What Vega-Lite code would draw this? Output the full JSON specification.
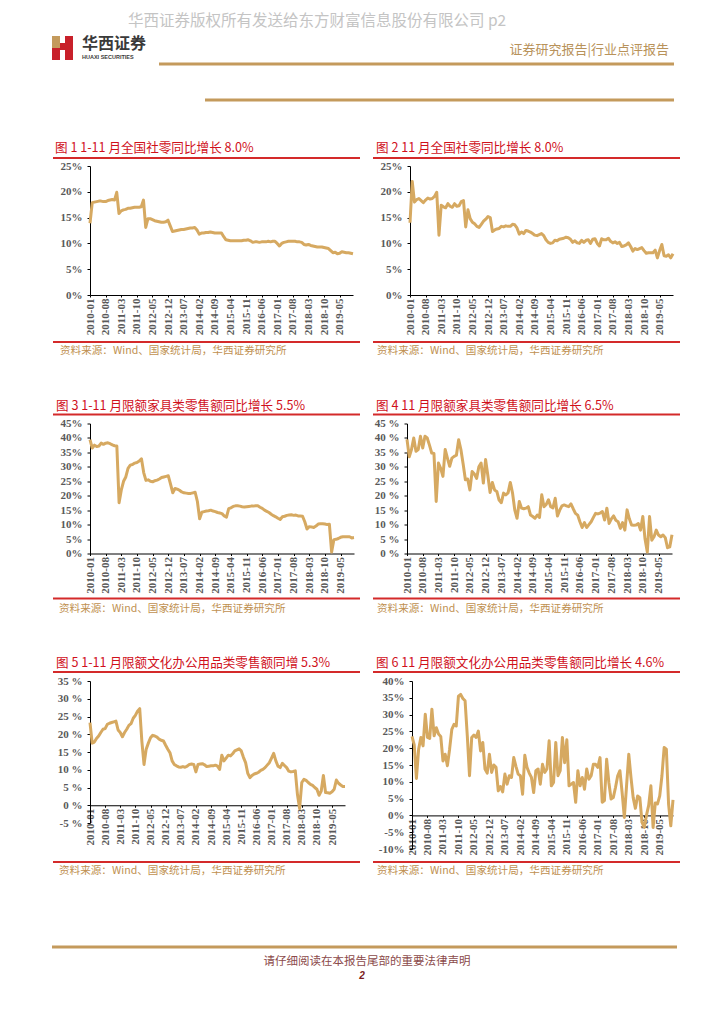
{
"$schema": "https://vega.github.io/schema/vega-lite/v6.json",
"autosize": {"type": "none"},
"padding": {"left": 90, "top": 166, "right": 634, "bottom": 858},
"background": "white",
"config": {
 "view": {"stroke": null},
 "font": "Noto Sans CJK SC",
 "axis": {"grid": false, "title": null, "domainColor": "#000000", "tickColor": "#000000", "labelFont": "Liberation Serif", "labelFontSize": 11, "labelColor": "#595959", "labelFontWeight": "bold", "tickSize": 3}
},
"datasets": {"m": [
{"d":"2010-01","a":13.9,"b":14.0,"c":39.4,"e":39.5,"f":23.3,"g":23.5},
{"d":"2010-02","a":17.9,"b":22.0,"c":36.5,"e":33.5,"f":17.5,"g":21.0},
{"d":"2010-03","a":18.0,"b":18.0,"c":37.5,"e":36.0,"f":17.8,"g":11.0},
{"d":"2010-04","a":18.1,"b":18.5,"c":37.0,"e":40.0,"f":18.8,"g":19.7},
{"d":"2010-05","a":18.2,"b":18.7,"c":37.2,"e":35.4,"f":19.5,"g":23.2},
{"d":"2010-06","a":18.2,"b":18.3,"c":38.2,"e":36.0,"f":20.5,"g":20.7},
{"d":"2010-07","a":18.1,"b":17.9,"c":37.8,"e":40.6,"f":21.4,"g":30.1},
{"d":"2010-08","a":18.1,"b":18.4,"c":38.2,"e":36.5,"f":21.6,"g":23.2},
{"d":"2010-09","a":18.3,"b":18.8,"c":38.3,"e":40.6,"f":22.8,"g":22.9},
{"d":"2010-10","a":18.4,"b":18.6,"c":38.0,"e":40.0,"f":23.1,"g":31.6},
{"d":"2010-11","a":18.5,"b":18.7,"c":37.6,"e":37.5,"f":23.3,"g":23.7},
{"d":"2010-12","a":18.4,"b":19.1,"c":37.3,"e":34.8,"f":23.5,"g":26.1},
{"d":"2011-01","a":19.9,"b":19.9,"c":37.2,"e":34.6,"f":23.7,"g":24.2},
{"d":"2011-02","a":15.8,"b":11.6,"c":17.6,"e":18.0,"f":21.2,"g":23.5},
{"d":"2011-03","a":16.3,"b":17.4,"c":22.0,"e":31.3,"f":20.5,"g":16.2},
{"d":"2011-04","a":16.5,"b":17.1,"c":25.0,"e":29.5,"f":19.3,"g":18.2},
{"d":"2011-05","a":16.6,"b":16.9,"c":26.5,"e":26.7,"f":20.5,"g":14.8},
{"d":"2011-06","a":16.8,"b":17.7,"c":29.5,"e":36.0,"f":21.4,"g":19.7},
{"d":"2011-07","a":16.8,"b":17.2,"c":30.6,"e":33.0,"f":22.5,"g":25.6},
{"d":"2011-08","a":16.9,"b":17.0,"c":30.8,"e":30.2,"f":23.0,"g":27.1},
{"d":"2011-09","a":17.0,"b":17.7,"c":31.3,"e":33.0,"f":24.5,"g":26.6},
{"d":"2011-10","a":17.0,"b":17.2,"c":31.5,"e":33.6,"f":25.3,"g":35.5},
{"d":"2011-11","a":17.0,"b":17.3,"c":32.0,"e":34.0,"f":26.5,"g":36.0},
{"d":"2011-12","a":17.1,"b":18.1,"c":32.8,"e":39.4,"f":27.2,"g":34.8},
{"d":"2012-01","a":18.4,"b":18.3,"c":28.0,"e":36.0,"f":18.0,"g":34.1},
{"d":"2012-02","a":13.1,"b":13.2,"c":25.3,"e":31.0,"f":11.5,"g":23.7},
{"d":"2012-03","a":14.8,"b":16.5,"c":25.5,"e":25.5,"f":15.8,"g":11.8},
{"d":"2012-04","a":14.8,"b":14.8,"c":25.0,"e":25.8,"f":17.5,"g":23.2},
{"d":"2012-05","a":14.6,"b":14.1,"c":24.8,"e":22.0,"f":19.0,"g":23.9},
{"d":"2012-06","a":14.4,"b":13.8,"c":25.2,"e":28.4,"f":19.7,"g":23.2},
{"d":"2012-07","a":14.3,"b":13.3,"c":25.4,"e":27.5,"f":19.5,"g":25.1},
{"d":"2012-08","a":14.2,"b":13.1,"c":25.8,"e":26.0,"f":19.2,"g":19.2},
{"d":"2012-09","a":14.1,"b":13.7,"c":26.3,"e":30.0,"f":18.6,"g":21.7},
{"d":"2012-10","a":14.1,"b":14.3,"c":26.5,"e":31.3,"f":18.3,"g":13.8},
{"d":"2012-11","a":14.2,"b":14.7,"c":26.7,"e":24.4,"f":18.1,"g":12.6},
{"d":"2012-12","a":14.5,"b":15.2,"c":26.9,"e":32.5,"f":16.9,"g":18.2},
{"d":"2013-01","a":13.4,"b":15.0,"c":24.0,"e":27.0,"f":15.8,"g":12.8},
{"d":"2013-02","a":12.3,"b":12.3,"c":21.0,"e":21.1,"f":14.8,"g":15.0},
{"d":"2013-03","a":12.4,"b":12.6,"c":22.5,"e":24.6,"f":12.5,"g":14.3},
{"d":"2013-04","a":12.5,"b":12.8,"c":22.3,"e":22.0,"f":11.5,"g":7.3},
{"d":"2013-05","a":12.6,"b":12.9,"c":21.9,"e":21.5,"f":11.1,"g":8.6},
{"d":"2013-06","a":12.7,"b":13.3,"c":21.3,"e":18.5,"f":10.8,"g":7.0},
{"d":"2013-07","a":12.7,"b":13.2,"c":21.0,"e":17.6,"f":10.7,"g":12.3},
{"d":"2013-08","a":12.8,"b":13.4,"c":20.9,"e":20.9,"f":10.9,"g":9.3},
{"d":"2013-09","a":12.9,"b":13.3,"c":20.8,"e":20.3,"f":10.7,"g":11.8},
{"d":"2013-10","a":13.0,"b":13.3,"c":20.8,"e":21.0,"f":11.0,"g":11.3},
{"d":"2013-11","a":13.0,"b":13.7,"c":21.0,"e":24.6,"f":11.5,"g":17.2},
{"d":"2013-12","a":13.1,"b":13.6,"c":21.2,"e":20.9,"f":11.6,"g":14.6},
{"d":"2014-01","a":12.6,"b":13.0,"c":18.0,"e":15.0,"f":11.5,"g":12.3},
{"d":"2014-02","a":11.8,"b":11.8,"c":12.0,"e":12.2,"f":9.4,"g":11.8},
{"d":"2014-03","a":12.0,"b":12.2,"c":14.3,"e":18.0,"f":11.5,"g":6.3},
{"d":"2014-04","a":12.0,"b":11.9,"c":14.5,"e":15.7,"f":11.6,"g":17.9},
{"d":"2014-05","a":12.1,"b":12.5,"c":14.7,"e":15.5,"f":11.7,"g":14.3},
{"d":"2014-06","a":12.1,"b":12.4,"c":14.8,"e":15.7,"f":11.4,"g":12.6},
{"d":"2014-07","a":12.2,"b":12.2,"c":15.0,"e":16.2,"f":10.9,"g":11.3},
{"d":"2014-08","a":12.1,"b":11.9,"c":14.7,"e":13.3,"f":11.0,"g":6.8},
{"d":"2014-09","a":12.0,"b":11.6,"c":14.5,"e":12.8,"f":11.1,"g":13.3},
{"d":"2014-10","a":12.0,"b":11.5,"c":14.2,"e":12.2,"f":11.1,"g":13.8},
{"d":"2014-11","a":12.0,"b":11.7,"c":14.0,"e":13.3,"f":11.3,"g":9.3},
{"d":"2014-12","a":12.0,"b":11.9,"c":13.8,"e":12.5,"f":11.0,"g":15.2},
{"d":"2015-01","a":11.3,"b":11.5,"c":13.0,"e":20.3,"f":10.1,"g":12.8},
{"d":"2015-02","a":10.7,"b":10.7,"c":12.6,"e":16.2,"f":14.1,"g":13.8},
{"d":"2015-03","a":10.6,"b":10.2,"c":15.5,"e":17.0,"f":12.5,"g":22.2},
{"d":"2015-04","a":10.5,"b":10.0,"c":15.8,"e":18.6,"f":13.3,"g":8.8},
{"d":"2015-05","a":10.5,"b":10.1,"c":16.3,"e":16.2,"f":14.1,"g":9.8},
{"d":"2015-06","a":10.5,"b":10.6,"c":16.5,"e":15.8,"f":13.9,"g":21.7},
{"d":"2015-07","a":10.5,"b":10.5,"c":16.5,"e":19.1,"f":14.5,"g":11.8},
{"d":"2015-08","a":10.5,"b":10.8,"c":16.4,"e":13.0,"f":15.3,"g":13.3},
{"d":"2015-09","a":10.5,"b":10.9,"c":16.2,"e":15.0,"f":15.6,"g":23.2},
{"d":"2015-10","a":10.6,"b":11.0,"c":16.1,"e":16.5,"f":15.9,"g":15.7},
{"d":"2015-11","a":10.6,"b":11.2,"c":16.2,"e":16.8,"f":15.3,"g":22.5},
{"d":"2015-12","a":10.7,"b":11.1,"c":16.3,"e":16.5,"f":13.5,"g":8.8},
{"d":"2016-01","a":10.5,"b":10.8,"c":16.4,"e":16.2,"f":12.0,"g":9.3},
{"d":"2016-02","a":10.2,"b":10.2,"c":16.4,"e":17.2,"f":9.0,"g":9.8},
{"d":"2016-03","a":10.3,"b":10.5,"c":16.5,"e":15.5,"f":7.8,"g":3.9},
{"d":"2016-04","a":10.3,"b":10.1,"c":16.5,"e":13.9,"f":8.4,"g":13.3},
{"d":"2016-05","a":10.2,"b":10.0,"c":16.0,"e":13.3,"f":8.8,"g":8.8},
{"d":"2016-06","a":10.3,"b":10.6,"c":15.6,"e":11.0,"f":9.0,"g":11.3},
{"d":"2016-07","a":10.3,"b":10.2,"c":15.0,"e":9.0,"f":9.3,"g":7.8},
{"d":"2016-08","a":10.3,"b":10.6,"c":14.6,"e":10.7,"f":9.8,"g":13.8},
{"d":"2016-09","a":10.4,"b":10.7,"c":14.2,"e":9.0,"f":10.1,"g":10.8},
{"d":"2016-10","a":10.3,"b":10.0,"c":13.6,"e":10.0,"f":10.6,"g":11.8},
{"d":"2016-11","a":10.4,"b":10.8,"c":13.1,"e":11.0,"f":11.3,"g":15.2},
{"d":"2016-12","a":10.4,"b":10.9,"c":12.7,"e":12.5,"f":12.0,"g":15.2},
{"d":"2017-01","a":10.0,"b":10.0,"c":12.2,"e":13.9,"f":13.3,"g":14.3},
{"d":"2017-02","a":9.5,"b":9.5,"c":11.8,"e":13.7,"f":14.6,"g":17.2},
{"d":"2017-03","a":10.0,"b":10.9,"c":12.7,"e":14.0,"f":12.5,"g":3.9},
{"d":"2017-04","a":10.2,"b":10.7,"c":12.9,"e":14.5,"f":11.0,"g":4.4},
{"d":"2017-05","a":10.3,"b":10.7,"c":13.2,"e":11.6,"f":10.6,"g":16.7},
{"d":"2017-06","a":10.4,"b":11.0,"c":13.3,"e":15.7,"f":11.8,"g":9.8},
{"d":"2017-07","a":10.4,"b":10.4,"c":13.4,"e":10.4,"f":11.2,"g":4.9},
{"d":"2017-08","a":10.4,"b":10.1,"c":13.2,"e":12.0,"f":10.6,"g":5.3},
{"d":"2017-09","a":10.4,"b":10.3,"c":13.3,"e":13.0,"f":9.6,"g":8.3},
{"d":"2017-10","a":10.3,"b":10.0,"c":13.0,"e":11.5,"f":9.4,"g":11.8},
{"d":"2017-11","a":10.3,"b":10.2,"c":13.0,"e":11.0,"f":9.5,"g":13.3},
{"d":"2017-12","a":10.2,"b":9.4,"c":12.9,"e":8.7,"f":9.7,"g":6.8},
{"d":"2018-01","a":9.8,"b":9.5,"c":11.0,"e":10.7,"f":3.0,"g":-0.6},
{"d":"2018-02","a":9.7,"b":9.7,"c":8.5,"e":8.1,"f":-0.9,"g":8.8},
{"d":"2018-03","a":9.8,"b":10.1,"c":9.3,"e":15.1,"f":6.4,"g":18.2},
{"d":"2018-04","a":9.6,"b":9.4,"c":9.2,"e":12.0,"f":7.3,"g":11.3},
{"d":"2018-05","a":9.5,"b":8.5,"c":9.0,"e":9.9,"f":7.0,"g":5.3},
{"d":"2018-06","a":9.4,"b":9.0,"c":9.5,"e":9.8,"f":6.4,"g":2.1},
{"d":"2018-07","a":9.3,"b":8.8,"c":10.2,"e":9.9,"f":5.9,"g":5.8},
{"d":"2018-08","a":9.3,"b":9.0,"c":10.3,"e":10.4,"f":5.6,"g":5.3},
{"d":"2018-09","a":9.3,"b":9.2,"c":10.3,"e":8.1,"f":5.0,"g":-2.1},
{"d":"2018-10","a":9.2,"b":8.6,"c":10.2,"e":12.8,"f":4.5,"g":-3.6},
{"d":"2018-11","a":9.1,"b":8.1,"c":10.0,"e":5.0,"f":2.8,"g":0.0},
{"d":"2018-12","a":9.0,"b":8.2,"c":10.1,"e":0.5,"f":4.0,"g":3.0},
{"d":"2019-01","a":8.6,"b":8.2,"c":0.5,"e":12.8,"f":8.4,"g":8.8},
{"d":"2019-02","a":8.2,"b":8.2,"c":4.8,"e":4.6,"f":3.6,"g":-3.6},
{"d":"2019-03","a":8.3,"b":8.7,"c":4.9,"e":5.8,"f":3.5,"g":3.7},
{"d":"2019-04","a":8.0,"b":7.2,"c":5.2,"e":8.1,"f":3.4,"g":3.4},
{"d":"2019-05","a":8.1,"b":8.6,"c":5.6,"e":6.4,"f":3.8,"g":5.8},
{"d":"2019-06","a":8.4,"b":9.8,"c":5.8,"e":5.8,"f":4.5,"g":11.8},
{"d":"2019-07","a":8.3,"b":7.6,"c":5.8,"e":6.4,"f":7.1,"g":20.2},
{"d":"2019-08","a":8.2,"b":7.5,"c":5.8,"e":5.5,"f":6.2,"g":19.7},
{"d":"2019-09","a":8.2,"b":7.8,"c":5.8,"e":2.0,"f":5.7,"g":3.4},
{"d":"2019-10","a":8.1,"b":7.2,"c":5.4,"e":2.3,"f":5.3,"g":-3.1},
{"d":"2019-11","a":8.0,"b":8.0,"c":5.5,"e":6.5,"f":5.3,"g":4.6}
]},
"vconcat": [
 {
  "hconcat": [
   {
    "width": 263, "height": 129,
    "layer": [
     {"data": {"name": "m"}, "mark": {"type": "line", "color": "#D6A961", "strokeWidth": 3, "strokeJoin": "round"},
      "encoding": {
       "x": {"field": "d", "type": "ordinal", "scale": {"type": "point", "padding": 0}, "axis": {"values": ["2010-01","2010-08","2011-03","2011-10","2012-05","2012-12","2013-07","2014-02","2014-09","2015-04","2015-11","2016-06","2017-01","2017-08","2018-03","2018-10","2019-05"], "labelAngle": -90, "tickSize": 2, "labelPadding": 1}},
       "y": {"field": "a", "type": "quantitative", "scale": {"domain": [0, 25], "nice": false}, "axis": {"values": [0,5,10,15,20,25], "labelExpr": "datum.value + '%'", "labelPadding": 5}}
      }},
     {"data": {"values": [{}]}, "mark": {"type": "rule", "color": "#D42A2A", "strokeWidth": 2}, "encoding": {"x": {"value": -37}, "x2": {"value": 270}, "y": {"value": -8}}},
     {"data": {"values": [{}]}, "mark": {"type": "rule", "color": "#D42A2A", "strokeWidth": 2}, "encoding": {"x": {"value": -37}, "x2": {"value": 270}, "y": {"value": 176}}},
     {"data": {"values": [{}]}, "mark": {"type": "text", "align": "left", "baseline": "middle", "fontSize": 12.6, "color": "#D0101B"}, "encoding": {"x": {"value": -35}, "y": {"value": -18}, "text": {"value": "图 1 1-11 月全国社零同比增长 8.0%"}}},
     {"data": {"values": [{}]}, "mark": {"type": "text", "align": "left", "baseline": "middle", "fontSize": 10.6, "color": "#C09050"}, "encoding": {"x": {"value": -30}, "y": {"value": 185}, "text": {"value": "资料来源：Wind、国家统计局，华西证券研究所"}}},
     {"data": {"values": [{}]}, "mark": {"type": "text", "align": "center", "baseline": "middle", "fontSize": 15.5, "color": "#c4c4c4"}, "encoding": {"x": {"value": 227}, "y": {"value": -145}, "text": {"value": "华西证券版权所有发送给东方财富信息股份有限公司  p2"}}},
     {"data": {"values": [{}]}, "mark": {"type": "rect", "color": "#C49A5C"}, "encoding": {"x": {"value": -38}, "x2": {"value": -30}, "y": {"value": -130}, "y2": {"value": -118}}},
     {"data": {"values": [{}]}, "mark": {"type": "rect", "color": "#C8202A"}, "encoding": {"x": {"value": -38}, "x2": {"value": -30}, "y": {"value": -118}, "y2": {"value": -106}}},
     {"data": {"values": [{}]}, "mark": {"type": "rect", "color": "#C8202A"}, "encoding": {"x": {"value": -25}, "x2": {"value": -17}, "y": {"value": -130}, "y2": {"value": -106}}},
     {"data": {"values": [{}]}, "mark": {"type": "rect", "color": "#C8202A"}, "encoding": {"x": {"value": -30}, "x2": {"value": -25}, "y": {"value": -123}, "y2": {"value": -116}}},
     {"data": {"values": [{}]}, "mark": {"type": "text", "align": "left", "baseline": "middle", "fontSize": 16, "fontWeight": "bold", "color": "#3a3a3a"}, "encoding": {"x": {"value": -8}, "y": {"value": -122}, "text": {"value": "华西证券"}}},
     {"data": {"values": [{}]}, "mark": {"type": "text", "align": "left", "baseline": "middle", "fontSize": 5.5, "fontWeight": "bold", "color": "#3a3a3a", "font": "Liberation Sans"}, "encoding": {"x": {"value": -8}, "y": {"value": -109}, "text": {"value": "HUAXI SECURITIES"}}},
     {"data": {"values": [{}]}, "mark": {"type": "text", "align": "right", "baseline": "middle", "fontSize": 13, "color": "#B8925A"}, "encoding": {"x": {"value": 579}, "y": {"value": -116}, "text": {"value": "证券研究报告|行业点评报告"}}},
     {"data": {"values": [{}]}, "mark": {"type": "rule", "color": "#C49A5C", "strokeWidth": 3}, "encoding": {"x": {"value": 69}, "x2": {"value": 584}, "y": {"value": -102}}},
     {"data": {"values": [{}]}, "mark": {"type": "rule", "color": "#C49A5C", "strokeWidth": 3}, "encoding": {"x": {"value": 115}, "x2": {"value": 584}, "y": {"value": -66}}}
    ]
   },
   {
    "width": 263, "height": 129,
    "layer": [
     {"data": {"name": "m"}, "mark": {"type": "line", "color": "#D6A961", "strokeWidth": 3, "strokeJoin": "round"},
      "encoding": {
       "x": {"field": "d", "type": "ordinal", "scale": {"type": "point", "padding": 0}, "axis": {"values": ["2010-01","2010-08","2011-03","2011-10","2012-05","2012-12","2013-07","2014-02","2014-09","2015-04","2015-11","2016-06","2017-01","2017-08","2018-03","2018-10","2019-05"], "labelAngle": -90, "tickSize": 2, "labelPadding": 1}},
       "y": {"field": "b", "type": "quantitative", "scale": {"domain": [0, 25], "nice": false}, "axis": {"values": [0,5,10,15,20,25], "labelExpr": "datum.value + '%'", "labelPadding": 5}}
      }},
     {"data": {"values": [{}]}, "mark": {"type": "rule", "color": "#D42A2A", "strokeWidth": 2}, "encoding": {"x": {"value": -37}, "x2": {"value": 270}, "y": {"value": -8}}},
     {"data": {"values": [{}]}, "mark": {"type": "rule", "color": "#D42A2A", "strokeWidth": 2}, "encoding": {"x": {"value": -37}, "x2": {"value": 270}, "y": {"value": 176}}},
     {"data": {"values": [{}]}, "mark": {"type": "text", "align": "left", "baseline": "middle", "fontSize": 12.6, "color": "#D0101B"}, "encoding": {"x": {"value": -34}, "y": {"value": -18}, "text": {"value": "图 2 11 月全国社零同比增长 8.0%"}}},
     {"data": {"values": [{}]}, "mark": {"type": "text", "align": "left", "baseline": "middle", "fontSize": 10.6, "color": "#C09050"}, "encoding": {"x": {"value": -33}, "y": {"value": 185}, "text": {"value": "资料来源：Wind、国家统计局，华西证券研究所"}}}
    ]
   }
  ],
  "spacing": 57, "bounds": "flush"
 },
 {
  "hconcat": [
   {
    "width": 264, "height": 130,
    "layer": [
     {"data": {"name": "m"}, "mark": {"type": "line", "color": "#D6A961", "strokeWidth": 3, "strokeJoin": "round"},
      "encoding": {
       "x": {"field": "d", "type": "ordinal", "scale": {"type": "point", "padding": 0}, "axis": {"values": ["2010-01","2010-08","2011-03","2011-10","2012-05","2012-12","2013-07","2014-02","2014-09","2015-04","2015-11","2016-06","2017-01","2017-08","2018-03","2018-10","2019-05"], "labelAngle": -90, "tickSize": 2, "labelPadding": 1}},
       "y": {"field": "c", "type": "quantitative", "scale": {"domain": [0, 45], "nice": false}, "axis": {"values": [0,5,10,15,20,25,30,35,40,45], "labelExpr": "datum.value + '%'", "labelPadding": 5}}
      }},
     {"data": {"values": [{}]}, "mark": {"type": "rule", "color": "#D42A2A", "strokeWidth": 2}, "encoding": {"x": {"value": -37}, "x2": {"value": 270}, "y": {"value": -9}}},
     {"data": {"values": [{}]}, "mark": {"type": "rule", "color": "#D42A2A", "strokeWidth": 2}, "encoding": {"x": {"value": -37}, "x2": {"value": 270}, "y": {"value": 175}}},
     {"data": {"values": [{}]}, "mark": {"type": "text", "align": "left", "baseline": "middle", "fontSize": 12.6, "color": "#D0101B"}, "encoding": {"x": {"value": -34}, "y": {"value": -18}, "text": {"value": "图 3 1-11 月限额家具类零售额同比增长 5.5%"}}},
     {"data": {"values": [{}]}, "mark": {"type": "text", "align": "left", "baseline": "middle", "fontSize": 10.6, "color": "#C09050"}, "encoding": {"x": {"value": -31}, "y": {"value": 185}, "text": {"value": "资料来源：Wind、国家统计局，华西证券研究所"}}}
    ]
   },
   {
    "width": 265, "height": 130,
    "layer": [
     {"data": {"name": "m"}, "mark": {"type": "line", "color": "#D6A961", "strokeWidth": 3, "strokeJoin": "round"},
      "encoding": {
       "x": {"field": "d", "type": "ordinal", "scale": {"type": "point", "padding": 0}, "axis": {"values": ["2010-01","2010-08","2011-03","2011-10","2012-05","2012-12","2013-07","2014-02","2014-09","2015-04","2015-11","2016-06","2017-01","2017-08","2018-03","2018-10","2019-05"], "labelAngle": -90, "tickSize": 2, "labelPadding": 1}},
       "y": {"field": "e", "type": "quantitative", "scale": {"domain": [0, 45], "nice": false}, "axis": {"values": [0,5,10,15,20,25,30,35,40,45], "labelExpr": "datum.value + ' %'", "labelPadding": 5}}
      }},
     {"data": {"values": [{}]}, "mark": {"type": "rule", "color": "#D42A2A", "strokeWidth": 2}, "encoding": {"x": {"value": -34}, "x2": {"value": 273}, "y": {"value": -9}}},
     {"data": {"values": [{}]}, "mark": {"type": "rule", "color": "#D42A2A", "strokeWidth": 2}, "encoding": {"x": {"value": -34}, "x2": {"value": 273}, "y": {"value": 175}}},
     {"data": {"values": [{}]}, "mark": {"type": "text", "align": "left", "baseline": "middle", "fontSize": 12.6, "color": "#D0101B"}, "encoding": {"x": {"value": -31}, "y": {"value": -18}, "text": {"value": "图 4 11 月限额家具类零售额同比增长 6.5%"}}},
     {"data": {"values": [{}]}, "mark": {"type": "text", "align": "left", "baseline": "middle", "fontSize": 10.6, "color": "#C09050"}, "encoding": {"x": {"value": -30}, "y": {"value": 185}, "text": {"value": "资料来源：Wind、国家统计局，华西证券研究所"}}}
    ]
   }
  ],
  "spacing": 53, "bounds": "flush"
 },
 {
  "hconcat": [
   {
    "width": 255, "height": 142,
    "layer": [
     {"data": {"name": "m"}, "mark": {"type": "line", "color": "#D6A961", "strokeWidth": 3, "strokeJoin": "round"},
      "encoding": {
       "x": {"field": "d", "type": "ordinal", "scale": {"type": "point", "padding": 0}, "axis": {"values": ["2010-01","2010-08","2011-03","2011-10","2012-05","2012-12","2013-07","2014-02","2014-09","2015-04","2015-11","2016-06","2017-01","2017-08","2018-03","2018-10","2019-05"], "labelAngle": -90, "tickSize": 2, "labelPadding": 1, "offset": -17.75}},
       "y": {"field": "f", "type": "quantitative", "scale": {"domain": [-5, 35], "nice": false}, "axis": {"values": [-5,0,5,10,15,20,25,30,35], "labelExpr": "datum.value + ' %'", "labelPadding": 5}}
      }},
     {"data": {"values": [{}]}, "mark": {"type": "rule", "color": "#D42A2A", "strokeWidth": 2}, "encoding": {"x": {"value": -37}, "x2": {"value": 270}, "y": {"value": -9}}},
     {"data": {"values": [{}]}, "mark": {"type": "rule", "color": "#D42A2A", "strokeWidth": 2}, "encoding": {"x": {"value": -37}, "x2": {"value": 270}, "y": {"value": 181}}},
     {"data": {"values": [{}]}, "mark": {"type": "text", "align": "left", "baseline": "middle", "fontSize": 12.6, "color": "#D0101B"}, "encoding": {"x": {"value": -34}, "y": {"value": -18}, "text": {"value": "图 5 1-11 月限额文化办公用品类零售额同增 5.3%"}}},
     {"data": {"values": [{}]}, "mark": {"type": "text", "align": "left", "baseline": "middle", "fontSize": 10.6, "color": "#C09050"}, "encoding": {"x": {"value": -31}, "y": {"value": 190}, "text": {"value": "资料来源：Wind、国家统计局，华西证券研究所"}}},
     {"data": {"values": [{}]}, "mark": {"type": "rule", "color": "#C49A5C", "strokeWidth": 3}, "encoding": {"x": {"value": -38}, "x2": {"value": 587}, "y": {"value": 266}}},
     {"data": {"values": [{}]}, "mark": {"type": "text", "align": "center", "baseline": "middle", "fontSize": 11.5, "color": "#8B4A4A"}, "encoding": {"x": {"value": 277}, "y": {"value": 281}, "text": {"value": "请仔细阅读在本报告尾部的重要法律声明"}}},
     {"data": {"values": [{}]}, "mark": {"type": "text", "align": "center", "baseline": "middle", "fontSize": 10, "fontWeight": "bold", "fontStyle": "italic", "color": "#7B1C1C", "font": "Liberation Sans"}, "encoding": {"x": {"value": 272}, "y": {"value": 295}, "text": {"value": "2"}}}
    ]
   },
   {
    "width": 261, "height": 168,
    "layer": [
     {"data": {"name": "m"}, "mark": {"type": "line", "color": "#D6A961", "strokeWidth": 3, "strokeJoin": "round"},
      "encoding": {
       "x": {"field": "d", "type": "ordinal", "scale": {"type": "point", "padding": 0}, "axis": {"values": ["2010-01","2010-08","2011-03","2011-10","2012-05","2012-12","2013-07","2014-02","2014-09","2015-04","2015-11","2016-06","2017-01","2017-08","2018-03","2018-10","2019-05"], "labelAngle": -90, "tickSize": 2, "labelPadding": 1, "offset": -33.6}},
       "y": {"field": "g", "type": "quantitative", "scale": {"domain": [-10, 40], "nice": false}, "axis": {"values": [-10,-5,0,5,10,15,20,25,30,35,40], "labelExpr": "datum.value + '%'", "labelPadding": 5}}
      }},
     {"data": {"values": [{}]}, "mark": {"type": "rule", "color": "#D42A2A", "strokeWidth": 2}, "encoding": {"x": {"value": -39}, "x2": {"value": 268}, "y": {"value": -9}}},
     {"data": {"values": [{}]}, "mark": {"type": "rule", "color": "#D42A2A", "strokeWidth": 2}, "encoding": {"x": {"value": -39}, "x2": {"value": 268}, "y": {"value": 181}}},
     {"data": {"values": [{}]}, "mark": {"type": "text", "align": "left", "baseline": "middle", "fontSize": 12.6, "color": "#D0101B"}, "encoding": {"x": {"value": -36}, "y": {"value": -18}, "text": {"value": "图 6 11 月限额文化办公用品类零售额同比增长 4.6%"}}},
     {"data": {"values": [{}]}, "mark": {"type": "text", "align": "left", "baseline": "middle", "fontSize": 10.6, "color": "#C09050"}, "encoding": {"x": {"value": -35}, "y": {"value": 190}, "text": {"value": "资料来源：Wind、国家统计局，华西证券研究所"}}}
    ]
   }
  ],
  "spacing": 67, "bounds": "flush"
 }
],
"spacing": 257.5,
"bounds": "flush"
}
